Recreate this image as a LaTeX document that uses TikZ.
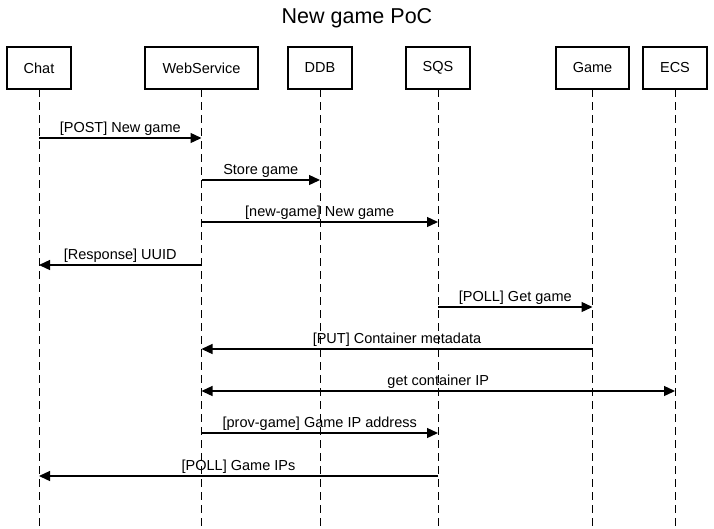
\documentclass[tikz,border=0pt]{standalone}
\usepackage{fontspec}
\setmainfont{Liberation Sans}
\usepackage{tikz}
\usetikzlibrary{arrows.meta,positioning}

\begin{document}
\begin{tikzpicture}[
  x=1pt, y=1pt,
  actor/.style={draw, line width=2.2pt, minimum width=64pt, minimum height=42pt, inner xsep=6pt, outer sep=0pt, font=\fontsize{14.5}{17}\selectfont},
  lifeline/.style={dash pattern=on 8pt off 5pt, line width=1pt},
  msg/.style={-{Triangle[length=11pt,width=10pt]}, line width=1.3pt},
  msgboth/.style={{Triangle[length=11pt,width=10pt]}-{Triangle[length=11pt,width=10pt]}, line width=1.3pt},
  lbl/.style={above, inner sep=0pt, yshift=2pt, font=\fontsize{14.5}{17}\selectfont}
]

\useasboundingbox (0,0) rectangle (714,-528);

% Title
\node[inner sep=0pt, font=\fontsize{21.5}{26}\selectfont] (title) at (357,-18) {New game PoC};

% Participants
\node[actor] (chat) at (39,-68) {Chat};
\node[actor, minimum width=113pt, right=74pt of chat] (web) {WebService};
\node[actor, right=30pt of web] (ddb) {DDB};
\node[actor, right=54pt of ddb] (sqs) {SQS};
\node[actor, minimum width=73pt, right=86pt of sqs] (game) {Game};
\node[actor, right=14pt of game] (ecs) {ECS};

% Lifelines
\coordinate (bottom) at (0,-528);
\draw[lifeline] (chat) -- (chat |- bottom);
\draw[lifeline] (web) -- (web |- bottom);
\draw[lifeline] (ddb) -- (ddb |- bottom);
\draw[lifeline] (sqs) -- (sqs |- bottom);
\draw[lifeline] (game) -- (game |- bottom);
\draw[lifeline] (ecs) -- (ecs |- bottom);

% Message rows
\coordinate (m1) at (0,-138);
\coordinate (m2) at (0,-180);
\coordinate (m3) at (0,-222);
\coordinate (m4) at (0,-265);
\coordinate (m5) at (0,-307);
\coordinate (m6) at (0,-349);
\coordinate (m7) at (0,-391);
\coordinate (m8) at (0,-433);
\coordinate (m9) at (0,-476);

% Messages
\draw[msg] (chat |- m1) -- node[lbl] {[POST] New game} (web |- m1);
\draw[msg] (web |- m2) -- node[lbl] {Store game} (ddb |- m2);
\draw[msg] (web |- m3) -- node[lbl] {[new-game] New game} (sqs |- m3);
\draw[msg] (web |- m4) -- node[lbl] {[Response] UUID} (chat |- m4);
\draw[msg] (sqs |- m5) -- node[lbl] {[POLL] Get game} (game |- m5);
\draw[msg] (game |- m6) -- node[lbl] {[PUT] Container metadata} (web |- m6);
\draw[msgboth] (web |- m7) -- node[lbl] {get container IP} (ecs |- m7);
\draw[msg] (web |- m8) -- node[lbl] {[prov-game] Game IP address} (sqs |- m8);
\draw[msg] (sqs |- m9) -- node[lbl] {[POLL] Game IPs} (chat |- m9);

\end{tikzpicture}
\end{document}
